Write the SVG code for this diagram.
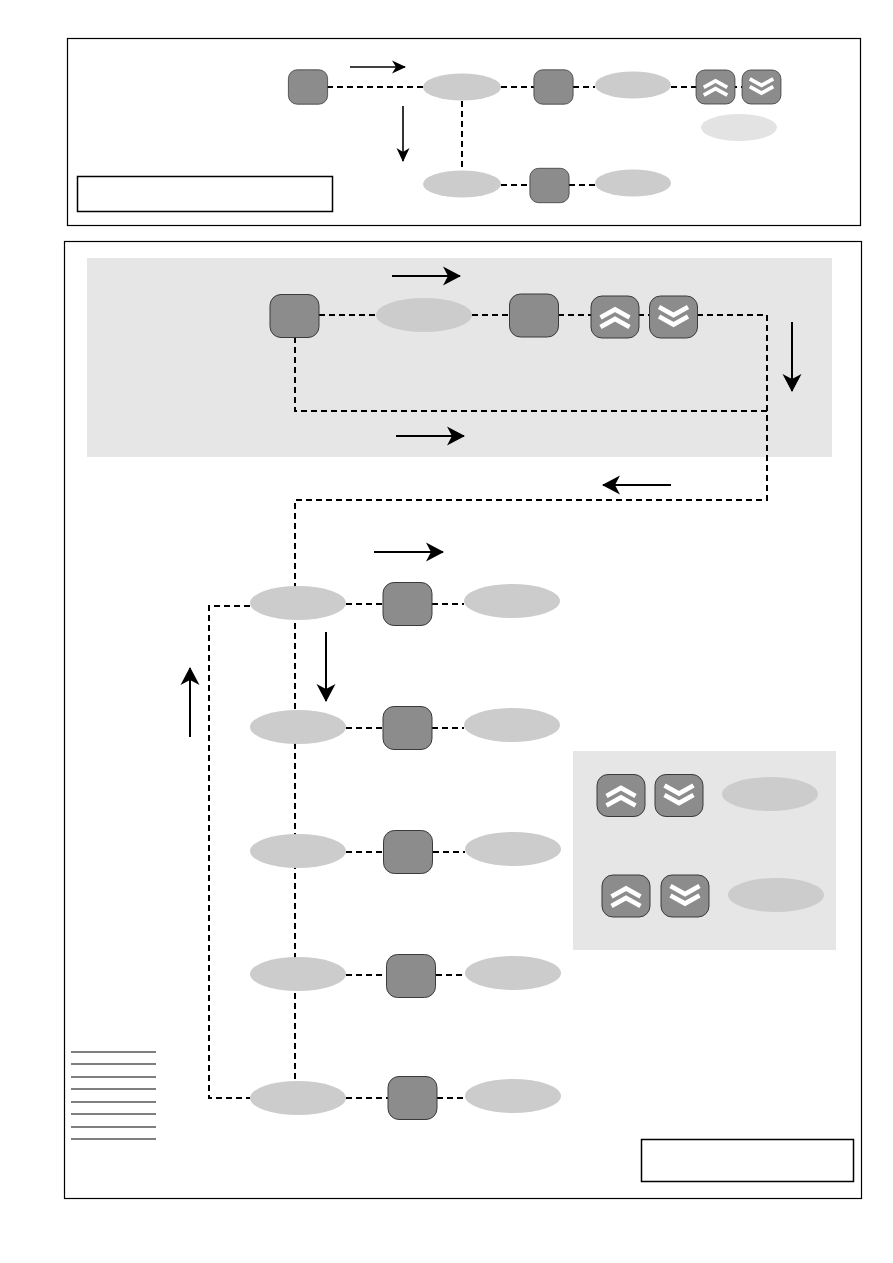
<svg xmlns="http://www.w3.org/2000/svg" width="893" height="1263" viewBox="0 0 893 1263">
<style>
.frame{fill:none;stroke:#000;stroke-width:1.2}
.box{fill:#fff;stroke:#000;stroke-width:1.5}
.band{fill:#e6e6e6;stroke:none}
.btn{fill:#8c8c8c;stroke:#3a3a3a;stroke-width:1}
.ell{fill:#cccccc;stroke:none}
.ell-light{fill:#e3e3e3;stroke:none}
.chev{fill:none;stroke:#fff;stroke-width:4.6;stroke-linejoin:miter;stroke-linecap:butt}
.dash{fill:none;stroke:#000;stroke-width:2;stroke-dasharray:6 4}
.arrow{fill:none;stroke:#000;stroke-width:2;marker-end:url(#ah)}
.arrow-s{fill:none;stroke:#000;stroke-width:1.6;marker-end:url(#ahs)}
.rule{stroke:#000;stroke-width:1.2}
</style>
<defs>
<marker id="ah" markerUnits="userSpaceOnUse" markerWidth="18" markerHeight="20" refX="17" refY="10" orient="auto">
<path d="M0,0.5 L18,10 L0,19.5 L5,10 Z" fill="#000"/>
</marker>
<marker id="ahs" markerUnits="userSpaceOnUse" markerWidth="14" markerHeight="14" refX="13" refY="7" orient="auto">
<path d="M0,0.5 L14,7 L0,13.5 L4,7 Z" fill="#000"/>
</marker>
<g id="key">
<rect class="btn" x="-24.5" y="-21.5" width="49" height="43" rx="11"/>
</g>
<g id="up">
<rect class="btn" x="-24" y="-21" width="48" height="42" rx="11"/>
<polyline class="chev" points="-14.5,0.5 0,-7.5 14.5,0.5"/>
<polyline class="chev" points="-14.5,10 0,2 14.5,10"/>
</g>
<g id="down">
<rect class="btn" x="-24" y="-21" width="48" height="42" rx="11"/>
<polyline class="chev" points="-14.5,-10 0,-2 14.5,-10"/>
<polyline class="chev" points="-14.5,-0.5 0,7.5 14.5,-0.5"/>
</g>
</defs>

<rect width="893" height="1263" fill="#fff"/>

<g id="frames">
<rect class="frame" x="67.5" y="38.5" width="793" height="187"/>
<rect class="box" x="77.5" y="176.5" width="255" height="35"/>
<rect class="frame" x="64.5" y="241.5" width="797" height="957"/>
<rect class="band" x="87" y="258" width="745" height="199"/>
<rect class="band" x="573" y="751" width="263" height="199"/>
<rect class="box" x="641.5" y="1139.5" width="212" height="42"/>
</g>

<g id="connectors">
<!-- top frame -->
<path class="dash" d="M327 87 H423"/>
<path class="dash" d="M501 87 H534"/>
<path class="dash" d="M573 87 H595"/>
<path class="dash" d="M671 87 H742"/>
<path class="dash" d="M462 101 V171"/>
<path class="dash" d="M501 185 H530"/>
<path class="dash" d="M569 185 H595"/>
<!-- band -->
<path class="dash" d="M319 315 H376"/>
<path class="dash" d="M472 315 H510"/>
<path class="dash" d="M558 315 H649"/>
<path class="dash" d="M697 315 H767 V500 H295 V1081"/>
<path class="dash" d="M295 337 V411 H767"/>
<!-- rows -->
<path class="dash" d="M250 606 H209 V1098 H250"/>
<path class="dash" d="M346 604 H383"/>
<path class="dash" d="M432 604 H464"/>
<path class="dash" d="M346 728 H383"/>
<path class="dash" d="M432 728 H464"/>
<path class="dash" d="M346 852 H384"/>
<path class="dash" d="M433 852 H465"/>
<path class="dash" d="M346 975 H386"/>
<path class="dash" d="M436 975 H465"/>
<path class="dash" d="M346 1098 H388"/>
<path class="dash" d="M437 1098 H465"/>
<!-- arrows -->
<line class="arrow-s" x1="350" y1="67" x2="405" y2="67"/>
<line class="arrow-s" x1="403" y1="106" x2="403" y2="161"/>
<line class="arrow" x1="392" y1="276" x2="460" y2="276"/>
<line class="arrow" x1="396" y1="436" x2="464" y2="436"/>
<line class="arrow" x1="792" y1="322" x2="792" y2="391"/>
<line class="arrow" x1="671" y1="485" x2="603" y2="485"/>
<line class="arrow" x1="374" y1="552" x2="443" y2="552"/>
<line class="arrow" x1="326" y1="632" x2="326" y2="701"/>
<line class="arrow" x1="190" y1="737" x2="190" y2="668"/>
</g>

<g id="n-top">
<use href="#key" transform="translate(308 87) scale(0.8)"/>
<ellipse class="ell" cx="462" cy="87" rx="39" ry="13.5"/>
<use href="#key" transform="translate(553.5 87) scale(0.8)"/>
<ellipse class="ell" cx="633" cy="85" rx="38" ry="13.5"/>
<use href="#up" transform="translate(715.5 87) scale(0.81)"/>
<use href="#down" transform="translate(761.5 87) scale(0.81)"/>
<ellipse class="ell-light" cx="739" cy="127.5" rx="38" ry="13.5"/>
<ellipse class="ell" cx="462" cy="184" rx="39" ry="13.5"/>
<use href="#key" transform="translate(549.5 185.5) scale(0.8)"/>
<ellipse class="ell" cx="633" cy="183" rx="38" ry="13.5"/>
</g>

<g id="n-band">
<use href="#key" transform="translate(294.5 316)"/>
<ellipse class="ell" cx="424" cy="315" rx="48" ry="17"/>
<use href="#key" transform="translate(534 315.5)"/>
<use href="#up" transform="translate(615 317)"/>
<use href="#down" transform="translate(673.5 317)"/>
</g>

<g id="n-row1">
<ellipse class="ell" cx="298" cy="603" rx="48" ry="17"/>
<use href="#key" transform="translate(407.5 604)"/>
<ellipse class="ell" cx="512" cy="601" rx="48" ry="17"/>
</g>
<g id="n-row2">
<ellipse class="ell" cx="298" cy="727" rx="48" ry="17"/>
<use href="#key" transform="translate(407.5 728)"/>
<ellipse class="ell" cx="512" cy="725" rx="48" ry="17"/>
</g>
<g id="n-row3">
<ellipse class="ell" cx="298" cy="851" rx="48" ry="17"/>
<use href="#key" transform="translate(408 852)"/>
<ellipse class="ell" cx="513" cy="849" rx="48" ry="17"/>
</g>
<g id="n-row4">
<ellipse class="ell" cx="298" cy="974" rx="48" ry="17"/>
<use href="#key" transform="translate(411 976)"/>
<ellipse class="ell" cx="513" cy="973" rx="48" ry="17"/>
</g>
<g id="n-row5">
<ellipse class="ell" cx="298" cy="1098" rx="48" ry="17"/>
<use href="#key" transform="translate(412.5 1098)"/>
<ellipse class="ell" cx="513" cy="1096" rx="48" ry="17"/>
</g>

<g id="n-legend">
<use href="#up" transform="translate(621 795.5)"/>
<use href="#down" transform="translate(679 795.5)"/>
<ellipse class="ell" cx="770" cy="794" rx="48" ry="17"/>
<use href="#up" transform="translate(626 896)"/>
<use href="#down" transform="translate(685 896)"/>
<ellipse class="ell" cx="776" cy="895" rx="48" ry="17"/>
</g>

<g id="rules">
<line class="rule" x1="71" y1="1052" x2="156" y2="1052"/>
<line class="rule" x1="71" y1="1064" x2="156" y2="1064"/>
<line class="rule" x1="71" y1="1077" x2="156" y2="1077"/>
<line class="rule" x1="71" y1="1089" x2="156" y2="1089"/>
<line class="rule" x1="71" y1="1102" x2="156" y2="1102"/>
<line class="rule" x1="71" y1="1114" x2="156" y2="1114"/>
<line class="rule" x1="71" y1="1127" x2="156" y2="1127"/>
<line class="rule" x1="71" y1="1139" x2="156" y2="1139"/>
</g>
</svg>
